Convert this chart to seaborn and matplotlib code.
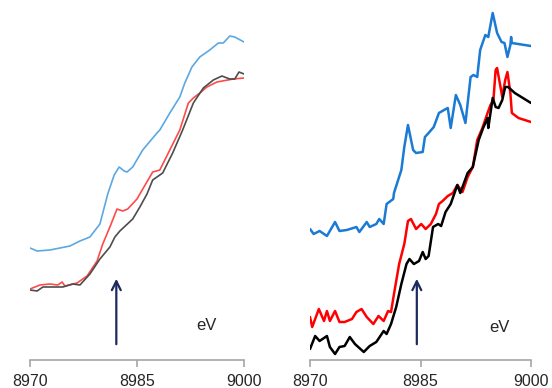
import matplotlib
matplotlib.use("Agg")
import matplotlib.pyplot as plt
import pandas as pd
import seaborn as sns

# ---- Data (y in arbitrary normalized units) --------------------------------
# Left panel
left_blue_ev = [8970.0, 8971.0, 8972.8, 8975.6, 8977.0, 8978.4, 8979.8, 8980.9, 8981.8,
                8982.5, 8983.2, 8983.6, 8984.4, 8985.8, 8987.8, 8988.2, 8989.6, 8991.0,
                8991.7, 8992.7, 8993.8, 8995.2, 8996.4, 8997.1, 8998.0, 8998.7, 9000.0]
left_blue_mu = [1.10, 1.07, 1.08, 1.12, 1.17, 1.21, 1.34, 1.64, 1.83,
                1.91, 1.87, 1.86, 1.91, 2.08, 2.25, 2.28, 2.45, 2.61,
                2.75, 2.91, 3.01, 3.08, 3.15, 3.15, 3.22, 3.21, 3.16]

left_red_ev = [8970.0, 8971.4, 8972.8, 8973.9, 8974.5, 8974.9, 8976.6, 8978.0, 8979.4,
               8980.2, 8981.2, 8982.2, 8983.0, 8983.7, 8985.0, 8985.4, 8987.2, 8988.2,
               8989.6, 8991.0, 8992.2, 8992.9, 8993.8, 8994.8, 8996.2, 8998.5, 9000.0]
left_red_mu = [0.69, 0.73, 0.74, 0.73, 0.76, 0.72, 0.75, 0.82, 0.97,
               1.14, 1.31, 1.49, 1.47, 1.49, 1.59, 1.64, 1.86, 1.88,
               2.08, 2.28, 2.55, 2.60, 2.65, 2.71, 2.76, 2.79, 2.80]

left_black_ev = [8970.0, 8971.0, 8971.8, 8974.6, 8976.0, 8977.0, 8978.4, 8979.8, 8981.2,
                 8981.9, 8982.6, 8984.4, 8985.4, 8986.4, 8987.2, 8988.6, 8990.0, 8991.4,
                 8992.9, 8994.3, 8995.7, 8996.9, 8998.0, 8998.7, 8999.3, 9000.0]
left_black_mu = [0.68, 0.67, 0.71, 0.71, 0.74, 0.73, 0.84, 0.99, 1.11,
                 1.21, 1.27, 1.39, 1.51, 1.64, 1.78, 1.85, 2.05, 2.28,
                 2.55, 2.70, 2.78, 2.82, 2.79, 2.79, 2.86, 2.84]

# Right panel
right_blue_ev = [8970.0, 8970.5, 8971.3, 8972.3, 8973.4, 8974.0, 8975.0, 8976.3, 8976.7,
                 8977.7, 8978.1, 8979.0, 8979.4, 8980.0, 8980.4, 8981.3, 8981.4, 8982.4,
                 8982.8, 8983.3, 8984.0, 8984.4, 8985.3, 8985.6, 8986.1, 8986.8, 8987.5,
                 8988.2, 8988.7, 8989.1, 8989.8, 8990.4, 8991.1, 8991.8, 8992.2, 8992.7,
                 8993.1, 8993.8, 8994.2, 8994.8, 8995.4, 8996.0, 8996.4, 8996.8, 8997.2,
                 8997.3, 8997.4, 9000.0]
right_blue_mu = [1.29, 1.24, 1.27, 1.22, 1.36, 1.27, 1.28, 1.31, 1.26,
                 1.36, 1.31, 1.34, 1.39, 1.34, 1.54, 1.59, 1.65, 1.88,
                 2.11, 2.33, 2.08, 2.05, 2.06, 2.21, 2.25, 2.31, 2.45,
                 2.48, 2.50, 2.30, 2.63, 2.53, 2.35, 2.81, 2.83, 2.81,
                 3.08, 3.23, 3.21, 3.45, 3.25, 3.16, 3.15, 3.01, 3.13,
                 3.21, 3.15, 3.12]

right_red_ev = [8970.0, 8970.3, 8971.2, 8971.9, 8972.3, 8972.7, 8973.4, 8974.0, 8974.7,
                8975.7, 8976.3, 8977.0, 8977.7, 8978.6, 8979.3, 8980.0, 8980.6, 8981.0,
                8981.4, 8982.1, 8982.8, 8983.3, 8983.7, 8984.4, 8985.1, 8985.7, 8986.4,
                8987.1, 8987.5, 8988.0, 8988.7, 8989.4, 8990.0, 8990.7, 8991.4, 8992.1,
                8992.7, 8993.4, 8994.1, 8994.5, 8994.9, 8995.2, 8995.4, 8996.1, 8996.5,
                8996.8, 8997.2, 8997.4, 8998.3, 9000.0]
right_red_mu = [0.41, 0.31, 0.49, 0.37, 0.47, 0.37, 0.47, 0.36, 0.36,
                0.39, 0.46, 0.49, 0.41, 0.34, 0.42, 0.37, 0.47, 0.46,
                0.64, 0.94, 1.14, 1.37, 1.39, 1.29, 1.34, 1.29, 1.34,
                1.44, 1.54, 1.57, 1.62, 1.65, 1.73, 1.66, 1.81, 1.91,
                2.18, 2.30, 2.45, 2.53, 2.58, 2.88, 2.90, 2.61, 2.78,
                2.86, 2.65, 2.45, 2.40, 2.36]

right_black_ev = [8970.0, 8970.7, 8971.3, 8972.3, 8972.7, 8973.4, 8974.0, 8974.7, 8975.4,
                  8976.1, 8977.3, 8978.1, 8979.0, 8980.0, 8980.4, 8981.0, 8981.7, 8982.4,
                  8983.1, 8983.5, 8984.1, 8984.8, 8985.3, 8985.7, 8986.1, 8986.7, 8987.4,
                  8987.8, 8988.4, 8989.1, 8990.0, 8990.4, 8991.4, 8992.1, 8992.9, 8993.5,
                  8994.1, 8994.2, 8994.8, 8995.2, 8995.6, 8996.1, 8996.5, 8996.9, 8997.8,
                  9000.0]
right_black_mu = [0.09, 0.22, 0.17, 0.22, 0.11, 0.04, 0.11, 0.12, 0.21,
                  0.14, 0.06, 0.12, 0.16, 0.27, 0.24, 0.34, 0.51, 0.74,
                  0.94, 0.99, 0.94, 0.97, 1.06, 0.99, 1.02, 1.31, 1.34,
                  1.32, 1.46, 1.54, 1.73, 1.65, 1.85, 1.91, 2.18, 2.30,
                  2.40, 2.30, 2.60, 2.51, 2.50, 2.58, 2.71, 2.71, 2.65,
                  2.55]

xticks = [8970, 8985, 9000]
left_arrow_ev, right_arrow_ev = 8982.1, 8984.5

# ---- Style ------------------------------------------------------------------
sns.set_style("white")
plt.rcParams["font.family"] = ["Liberation Sans", "DejaVu Sans"]

fig = plt.figure(figsize=(5.52, 3.88), dpi=100)
ax_l = fig.add_axes([30 / 552, 28 / 388, 214 / 552, 360 / 388])
ax_r = fig.add_axes([310 / 552, 28 / 388, 221 / 552, 360 / 388])

left_series = [
    (left_blue_ev, left_blue_mu, "#5ba8e3"),
    (left_red_ev, left_red_mu, "#ff4a4a"),
    (left_black_ev, left_black_mu, "#4d4d4d"),
]
right_series = [
    (right_blue_ev, right_blue_mu, "#1a7ad4"),
    (right_red_ev, right_red_mu, "#ff0000"),
    (right_black_ev, right_black_mu, "#000000"),
]

for ax, series, lw, arrow_ev in [(ax_l, left_series, 1.2, left_arrow_ev),
                                 (ax_r, right_series, 1.8, right_arrow_ev)]:
    for ev, mu, color in series:
        df = pd.DataFrame({"eV": ev, "mu": mu})
        sns.lineplot(data=df, x="eV", y="mu", sort=False, color=color,
                     linewidth=lw, ax=ax, solid_joinstyle="round",
                     solid_capstyle="round")
    ax.set_xlim(8970, 9000)
    ax.set_ylim(-0.02, 3.58)
    ax.set_xticks(xticks)
    ax.set_yticks([])
    ax.set_xlabel("")
    ax.set_ylabel("")
    for side in ["left", "top", "right"]:
        ax.spines[side].set_visible(False)
    ax.spines["bottom"].set_color("#a6a6a6")
    ax.spines["bottom"].set_linewidth(1.2)
    ax.tick_params(axis="x", direction="out", length=5, width=1.2,
                   color="#a6a6a6", labelsize=11.5, pad=5, bottom=True)
    ax.patch.set_alpha(0)
    # edge arrow
    ax.annotate("", xy=(arrow_ev, 0.82), xytext=(arrow_ev, 0.11),
                arrowprops=dict(arrowstyle="->", color="#1c2a5e", lw=1.6,
                                mutation_scale=16))

ax_l.text(8994.7, 0.32, "eV", fontsize=12, ha="center", va="center")
ax_r.text(8995.7, 0.31, "eV", fontsize=12, ha="center", va="center")

fig.savefig("out.png", dpi=100)
